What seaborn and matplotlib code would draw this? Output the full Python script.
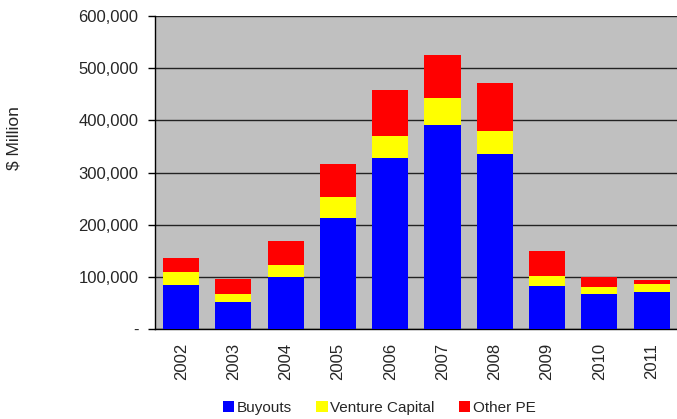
import numpy as np
import pandas as pd
import matplotlib
matplotlib.use("Agg")
import matplotlib.pyplot as plt
from matplotlib.ticker import FuncFormatter
from matplotlib.patches import Patch
import seaborn as sns

# data ($ million)
years = ["2002", "2003", "2004", "2005", "2006", "2007", "2008", "2009", "2010", "2011"]
buyouts = [85000, 52000, 100000, 213000, 328000, 391000, 336000, 83000, 68000, 72000]
venture_capital = [25000, 15000, 23000, 40000, 42000, 52000, 44000, 19000, 13000, 15000]
other_pe = [27000, 29000, 46000, 63000, 88000, 82000, 92000, 48000, 19000, 8000]

series_names = ["Buyouts", "Venture Capital", "Other PE"]
colors = ["#0000FF", "#FFFF00", "#FF0000"]

df = pd.DataFrame({
    "Year": years,
    "Buyouts": buyouts,
    "Venture Capital": venture_capital,
    "Other PE": other_pe,
})

sns.set_style("white")
plt.rcParams["font.family"] = ["Liberation Sans", "DejaVu Sans"]
plt.rcParams["font.size"] = 12

fig = plt.figure(figsize=(6.77, 4.19), dpi=100)
ax = fig.add_axes([0.229, 0.214, 0.772, 0.748])
ax.set_facecolor("#C0C0C0")

# stack the three series
bottom = np.zeros(len(df))
for name, color in zip(series_names, colors):
    sns.barplot(data=df, x="Year", y=name, color=color, bottom=bottom,
                width=0.69, saturation=1, linewidth=0, edgecolor="none",
                ax=ax, zorder=3)
    bottom = bottom + df[name].to_numpy()

ax.set_xlim(-0.5, len(years) - 0.5)
ax.set_ylim(0, 600000)
ax.set_yticks(np.arange(0, 600001, 100000))
ax.yaxis.set_major_formatter(FuncFormatter(lambda v, p: "-" if v == 0 else f"{v:,.0f}"))
ax.yaxis.grid(True, color="#222222", linewidth=1.0, zorder=1)
ax.set_axisbelow(True)

ax.set_xticks(np.arange(len(years)))
ax.set_xticklabels(years, rotation=90, fontsize=12)
ax.set_xticks(np.arange(-0.5, len(years)), minor=True)
ax.tick_params(axis="x", which="major", length=0, pad=10)
ax.tick_params(axis="x", which="minor", length=5, width=1, direction="out", color="black")
ax.tick_params(axis="y", length=5, width=1, direction="out", color="black",
               left=True, pad=7, labelsize=12)

for s in ["top", "right"]:
    ax.spines[s].set_visible(False)
for s in ["left", "bottom"]:
    ax.spines[s].set_color("black")
    ax.spines[s].set_linewidth(1)

ax.set_xlabel("")
ax.set_ylabel(r"\$ Million", fontsize=12.5)
ax.yaxis.set_label_coords(-0.255, 0.61)

handles = [Patch(facecolor=c, edgecolor="none") for c in colors]
fig.legend(handles, series_names, loc="center", bbox_to_anchor=(0.56, 0.026),
           ncol=3, frameon=False, handlelength=0.75, handleheight=0.75,
           handletextpad=0.15, columnspacing=1.6, fontsize=11)

fig.savefig("out.png", dpi=100)
